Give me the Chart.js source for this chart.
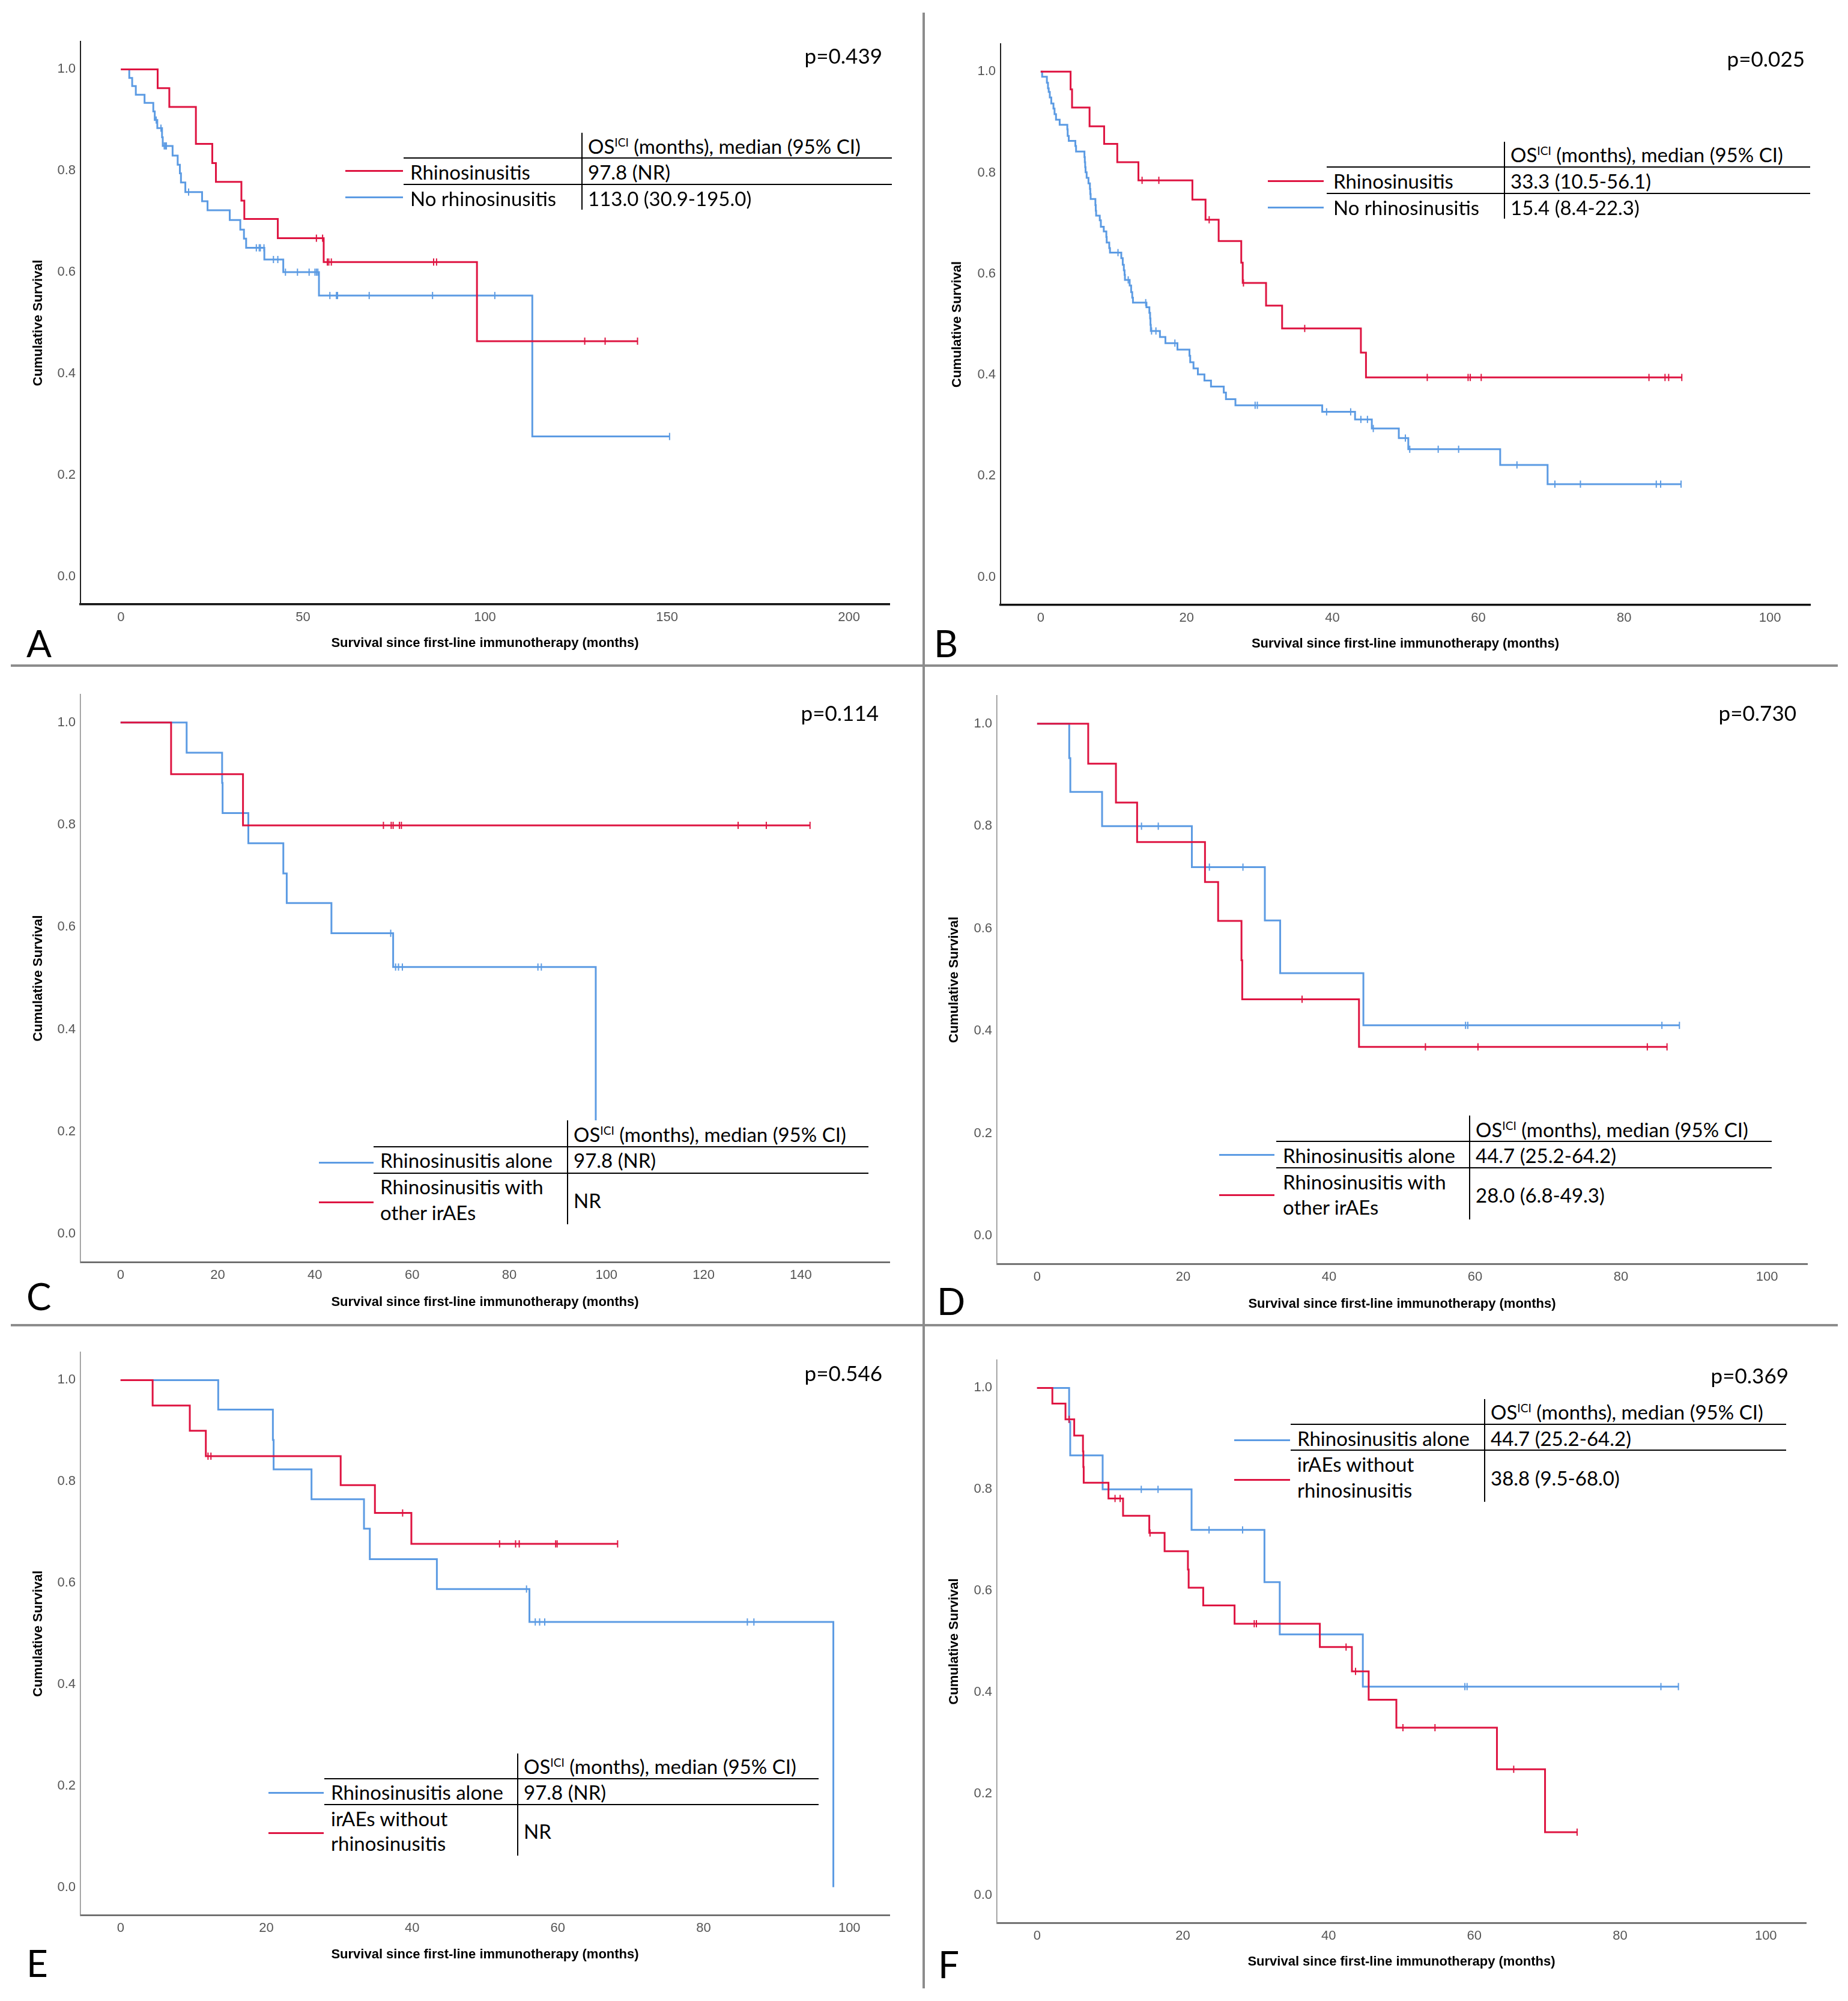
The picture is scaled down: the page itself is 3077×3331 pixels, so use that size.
<!DOCTYPE html>
<html>
<head>
<meta charset="UTF-8" />
<title>Overall survival since first-line immunotherapy</title>
<script src="https://cdn.jsdelivr.net/npm/chart.js@4/dist/chart.umd.min.js"></script>
<style>
    body {
        margin: 0;
        width: 3077px;
        height: 3331px;
        position: relative;
        overflow: hidden;
        background-color: white;
    }
    canvas { position: absolute; }
    .rule { position: absolute; background-color: #8c8c8c; }
    .txt {
        position: absolute;
        white-space: nowrap;
        font-family: Lato, 'Open Sans', sans-serif;
        color: #000;
    }
    .tbl { position: absolute; background-color: white; }
    .ln { position: absolute; }
    sup { font-size: 58%; vertical-align: 0.62em; line-height: 0; }
</style>
</head>
<body>
<script>
    // ---- values (months, cumulative survival) ----
    // A: rhinosinusitis vs no rhinosinusitis
    const aRedT  = [0, 10.1, 13.3, 20.6, 25.1, 26.1, 33.1, 33.9, 43.1, 55.7, 97.8];
    const aRedS  = [1, 0.963, 0.926, 0.853, 0.815, 0.778, 0.741, 0.705, 0.667, 0.620, 0.464];
    const aRedC  = [53.7, 55.4, 56.7, 57.1, 57.8, 85.9, 86.7, 127.4, 133.0, 141.9];
    const aBlueT = [0, 2.3, 3.1, 4.1, 6.5, 8.9, 9.3, 10.0, 11.3, 11.5, 14.2, 15.6, 16.2, 16.5, 17.7,
                    22.3, 23.8, 29.9, 32.8, 33.8, 34.4, 39.4, 44.6, 54.4, 113.0];
    const aBlueS = [1, 0.983, 0.967, 0.950, 0.934, 0.917, 0.900, 0.884, 0.866, 0.849, 0.830, 0.812, 0.795, 0.777, 0.758,
                    0.740, 0.722, 0.703, 0.684, 0.666, 0.648, 0.625, 0.600, 0.554, 0.276];
    const aBlueC = [9.7, 11.0, 11.9, 12.2, 12.5, 18.6, 37.2, 38.0, 38.3, 39.3, 41.9, 43.1, 45.2, 48.5, 51.7,
                    53.3, 53.7, 54.1, 57.4, 59.2, 59.5, 68.2, 85.6, 102.7, 150.7];

    // B: rhinosinusitis vs no rhinosinusitis
    const bRedT  = [0, 4.1, 4.3, 6.7, 8.7, 10.5, 13.4, 20.8, 22.6, 24.4, 27.5, 27.7, 30.9, 33.1, 43.9, 44.6];
    const bRedS  = [1, 0.965, 0.929, 0.892, 0.857, 0.821, 0.785, 0.747, 0.707, 0.665, 0.622, 0.582, 0.537, 0.492, 0.444, 0.395];
    const bRedC  = [13.9, 16.2, 23.1, 27.8, 36.2, 53.0, 58.6, 58.9, 60.4, 83.4, 85.6, 86.1, 87.9];
    const bBlueT = [0, 0.2, 0.85, 1.0, 1.1, 1.25, 1.45, 1.75, 1.9, 2.1,
                    2.6, 3.65, 3.7, 3.85, 4.75, 4.85, 6.0, 6.05, 6.1, 6.15,
                    6.3, 6.55, 6.75, 6.8, 6.85, 7.5, 7.55, 7.6, 8.1, 8.25,
                    8.65, 9.0, 9.05, 9.4, 9.5, 11.05, 11.25, 11.4, 11.5, 11.55,
                    12.2, 12.4, 12.55, 12.65, 14.5, 14.9, 15.0, 15.05, 15.1, 16.35,
                    17.1, 18.75, 20.4, 20.5, 20.95, 21.55, 22.45, 23.35, 25.1, 25.4,
                    26.7, 38.6, 43.1, 45.4, 49.1, 50.4, 63.0, 69.5];
    const bBlueS = [1, 0.990, 0.978, 0.967, 0.960, 0.949, 0.937, 0.927, 0.916, 0.905,
                    0.895, 0.886, 0.873, 0.863, 0.853, 0.842, 0.831, 0.821, 0.811, 0.801,
                    0.790, 0.779, 0.768, 0.758, 0.748, 0.736, 0.725, 0.715, 0.706, 0.693,
                    0.684, 0.673, 0.662, 0.651, 0.642, 0.631, 0.618, 0.607, 0.598, 0.588,
                    0.577, 0.564, 0.553, 0.543, 0.534, 0.523, 0.512, 0.499, 0.487, 0.475,
                    0.463, 0.450, 0.438, 0.425, 0.413, 0.401, 0.389, 0.377, 0.365, 0.352,
                    0.340, 0.327, 0.312, 0.294, 0.275, 0.253, 0.222, 0.184];
    const bBlueC = [10.6, 12.0, 14.4, 15.2, 15.8, 18.4, 29.4, 29.7, 39.2, 42.5, 43.9, 44.8,
                    45.6, 50.0, 50.6, 54.5, 57.3, 65.3, 70.5, 74.0, 84.4, 85.0, 87.8];

    // C: rhinosinusitis alone vs rhinosinusitis with other irAEs
    const cBlueT = [0, 13.6, 20.9, 21.0, 26.3, 33.5, 34.2, 43.4, 56.1, 97.8];
    const cBlueS = [1, 0.941, 0.882, 0.823, 0.764, 0.705, 0.647, 0.588, 0.522, 0];
    const cBlueC = [55.6, 56.6, 57.2, 58.0, 85.9, 86.6];
    const cRedT  = [0, 10.4, 25.2];
    const cRedS  = [1, 0.899, 0.799];
    const cRedC  = [54.1, 55.7, 56.1, 57.4, 57.8, 127.1, 132.9, 141.9];

    // D: rhinosinusitis alone vs rhinosinusitis with other irAEs
    const dBlueT = [0, 4.4, 4.55, 8.9, 21.2, 31.2, 33.3, 44.7];
    const dBlueS = [1, 0.933, 0.867, 0.800, 0.720, 0.616, 0.513, 0.411];
    const dBlueC = [14.3, 16.6, 23.6, 28.2, 58.7, 59.0, 85.6, 88.0];
    const dRedT  = [0, 7.0, 10.8, 13.7, 23.0, 24.8, 28.0, 28.1, 44.1];
    const dRedS  = [1, 0.922, 0.846, 0.769, 0.691, 0.615, 0.538, 0.462, 0.369];
    const dRedC  = [36.3, 53.2, 60.4, 83.6, 86.3];

    // E: rhinosinusitis alone vs irAEs without rhinosinusitis
    const eBlueT = [0, 13.4, 20.9, 21.0, 26.2, 33.4, 34.2, 43.4, 56.1, 97.8];
    const eBlueS = [1, 0.942, 0.882, 0.824, 0.765, 0.707, 0.647, 0.588, 0.523, 0];
    const eBlueC = [55.7, 56.9, 57.5, 58.2, 86.0, 86.9];
    const eRedT  = [0, 4.4, 9.5, 11.7, 30.2, 34.9, 39.9];
    const eRedS  = [1, 0.950, 0.900, 0.850, 0.793, 0.738, 0.677];
    const eRedC  = [12.0, 12.4, 38.7, 52.0, 54.2, 54.7, 59.7, 59.9, 68.2];

    // F: rhinosinusitis alone vs irAEs without rhinosinusitis
    const fBlueT = [0, 4.4, 4.55, 9.0, 21.2, 31.2, 33.3, 44.7];
    const fBlueS = [1, 0.933, 0.867, 0.800, 0.720, 0.617, 0.514, 0.411];
    const fBlueC = [14.3, 16.6, 23.6, 28.2, 58.7, 59.0, 85.6, 88.0];
    const fRedT  = [0, 2.1, 3.9, 5.1, 6.3, 6.35, 6.4, 9.8, 11.8, 15.4, 17.5, 20.7, 20.8, 22.8, 27.1,
                    38.8, 43.2, 45.5, 49.3, 63.1, 69.7];
    const fRedS  = [1, 0.969, 0.938, 0.906, 0.875, 0.844, 0.813, 0.782, 0.748, 0.714, 0.678, 0.642, 0.606, 0.571, 0.535,
                    0.489, 0.441, 0.385, 0.330, 0.248, 0.124];
    const fRedC  = [4.4, 10.7, 11.4, 15.5, 29.8, 30.1, 42.4, 43.7, 50.2, 54.6, 65.4, 74.1];

    // tick labels
    const aXTicks = [0, 50, 100, 150, 200];
    const cXTicks = [0, 20, 40, 60, 80, 100, 120, 140];
    const xTicks100 = [0, 20, 40, 60, 80, 100];
    const yTicks = [0, 0.2, 0.4, 0.6, 0.8, 1.0];

    // texts
    const xTitle = 'Survival since first-line immunotherapy (months)';
    const yTitle = 'Cumulative Survival';
    const headerText = 'OS<sup>ICI</sup> (months), median (95% CI)';
    const panelLetters = ['A', 'B', 'C', 'D', 'E', 'F'];
    const pValues = ['p=0.439', 'p=0.025', 'p=0.114', 'p=0.730', 'p=0.546', 'p=0.369'];
    const groupNames = [
        [['Rhinosinusitis'], ['No rhinosinusitis']],
        [['Rhinosinusitis'], ['No rhinosinusitis']],
        [['Rhinosinusitis alone'], ['Rhinosinusitis with', 'other irAEs']],
        [['Rhinosinusitis alone'], ['Rhinosinusitis with', 'other irAEs']],
        [['Rhinosinusitis alone'], ['irAEs without', 'rhinosinusitis']],
        [['Rhinosinusitis alone'], ['irAEs without', 'rhinosinusitis']]
    ];
    const medians = [
        ['97.8 (NR)', '113.0 (30.9-195.0)'],
        ['33.3 (10.5-56.1)', '15.4 (8.4-22.3)'],
        ['97.8 (NR)', 'NR'],
        ['44.7 (25.2-64.2)', '28.0 (6.8-49.3)'],
        ['97.8 (NR)', 'NR'],
        ['44.7 (25.2-64.2)', '38.8 (9.5-68.0)']
    ];

    // ---- styles and layout ----
    const RED = '#de1441';
    const BLUE = '#5c9be3';
    const AXIS_FONT = "'Liberation Sans', Arial, sans-serif";

    const panelCurves = [
        [[aRedT, aRedS, aRedC, RED], [aBlueT, aBlueS, aBlueC, BLUE]],
        [[bRedT, bRedS, bRedC, RED], [bBlueT, bBlueS, bBlueC, BLUE]],
        [[cRedT, cRedS, cRedC, RED], [cBlueT, cBlueS, cBlueC, BLUE]],
        [[dRedT, dRedS, dRedC, RED], [dBlueT, dBlueS, dBlueC, BLUE]],
        [[eRedT, eRedS, eRedC, RED], [eBlueT, eBlueS, eBlueC, BLUE]],
        [[fRedT, fRedS, fRedC, RED], [fBlueT, fBlueS, fBlueC, BLUE]]
    ];
    const panelXTicks = [aXTicks, xTicks100, cXTicks, xTicks100, xTicks100, xTicks100];
    const rowColors = [[RED, BLUE], [RED, BLUE], [BLUE, RED], [BLUE, RED], [BLUE, RED], [BLUE, RED]];

    // plot boxes in page pixels
    const plotBoxes = [
        { L: 134,  T: 69,   R: 1481, B: 1006, cx: 20,   yTitleX: 64,   xTitleY: 1071, xMin: -11.1, xMax: 211.1 },
        { L: 1666, T: 73,   R: 3014, B: 1007, cx: 1550, yTitleX: 1594, xTitleY: 1072, xMin: -5.5,  xMax: 105.5 },
        { L: 134,  T: 1156, R: 1481, B: 2101, cx: 20,   yTitleX: 64,   xTitleY: 2168, xMin: -8.25, xMax: 158.25 },
        { L: 1660, T: 1158, R: 3009, B: 2104, cx: 1550, yTitleX: 1589, xTitleY: 2171, xMin: -5.5,  xMax: 105.5 },
        { L: 134,  T: 2251, R: 1481, B: 3188, cx: 20,   yTitleX: 64,   xTitleY: 3254, xMin: -5.5,  xMax: 105.5 },
        { L: 1660, T: 2264, R: 3007, B: 3201, cx: 1550, yTitleX: 1589, xTitleY: 3266, xMin: -5.5,  xMax: 105.5 }
    ];
    const tables = [
        { legX0: 575,  legX1: 671,  c1: 672,  vx: 968,  right: 1485, vTop: 221,  hl1: 263,  hl2: 307,  vBot: 349,
          headY: 243,  nameY: [[286], [330]], valY: [286, 330], lineY: [284, 328] },
        { legX0: 2111, legX1: 2204, c1: 2209, vx: 2504, right: 3014, vTop: 236,  hl1: 278,  hl2: 322,  vBot: 364,
          headY: 257,  nameY: [[301], [345]], valY: [301, 345], lineY: [301, 345] },
        { legX0: 531,  legX1: 622,  c1: 622,  vx: 944,  right: 1446, vTop: 1865, hl1: 1909, hl2: 1953, vBot: 2038, boxBottom: 2096,
          headY: 1888, nameY: [[1931], [1975, 2018]], valY: [1931, 1998], lineY: [1935, 2001] },
        { legX0: 2030, legX1: 2122, c1: 2125, vx: 2446, right: 2950, vTop: 1857, hl1: 1900, hl2: 1944, vBot: 2030,
          headY: 1880, nameY: [[1923], [1967, 2009]], valY: [1923, 1989], lineY: [1922, 1989] },
        { legX0: 447,  legX1: 539,  c1: 540,  vx: 861,  right: 1363, vTop: 2919, hl1: 2961, hl2: 3004, vBot: 3089,
          headY: 2940, nameY: [[2983], [3027, 3068]], valY: [2983, 3048], lineY: [2984, 3051] },
        { legX0: 2055, legX1: 2148, c1: 2149, vx: 2471, right: 2974, vTop: 2329, hl1: 2371, hl2: 2414, vBot: 2500,
          headY: 2350, nameY: [[2394], [2437, 2480]], valY: [2394, 2460], lineY: [2397, 2463] }
    ];
    const pPos = [{ r: 1469, y: 92 }, { r: 3005, y: 97 }, { r: 1463, y: 1186 },
                  { r: 2991, y: 1186 }, { r: 1469, y: 2285 }, { r: 2978, y: 2289 }];
    const letterPos = [{ x: 44, y: 1070 }, { x: 1555, y: 1070 }, { x: 44, y: 2157 },
                       { x: 1560, y: 2165 }, { x: 44, y: 3267 }, { x: 1562, y: 3269 }];

    // ---- helpers ----
    function stepPoints(t, s, cens) {
        let pts = t.map((x, i) => ({ x: x, y: s[i] }));
        let end = Math.max(t[t.length - 1], ...cens);
        if (end > t[t.length - 1]) pts.push({ x: end, y: s[s.length - 1] });
        return pts;
    }
    function levelAt(t, s, x) {
        let y = 1;
        for (let i = 0; i < t.length; i++) if (t[i] <= x) y = s[i];
        return y;
    }
    function kmDatasets(t, s, cens, color) {
        return [
            { data: cens.map(x => ({ x: x, y: levelAt(t, s, x) })), showLine: false,
              borderColor: color, backgroundColor: color, pointStyle: 'line', pointRotation: 90,
              pointRadius: 6, pointBorderWidth: 2 },
            { data: stepPoints(t, s, cens), stepped: true, borderColor: color, borderWidth: 3,
              pointRadius: 0, fill: false, borderCapStyle: 'butt', borderJoinStyle: 'miter' }
        ];
    }
    function addDiv(cls, css, html) {
        let d = document.createElement('div');
        d.className = cls;
        d.style.cssText = css;
        if (html) d.innerHTML = html;
        document.body.appendChild(d);
        return d;
    }
    function addText(html, x, cy, size, align) {
        let lh = Math.round(size * 1.2);
        let pos = align === 'right' ? 'right:' + (3077 - x) + 'px;' : 'left:' + x + 'px;';
        addDiv('txt', pos + 'top:' + (cy - lh / 2) + 'px;font-size:' + size + 'px;line-height:' + lh + 'px;', html);
    }

    function drawPanel(k) {
        const g = plotBoxes[k];
        const ct = g.T - 40, cr = g.R + 30, cb = Math.round(g.xTitleY + 16);
        const cw = cr - g.cx, ch = cb - ct;
        let cv = document.createElement('canvas');
        cv.width = cw;
        cv.height = ch;
        cv.style.cssText = 'left:' + g.cx + 'px;top:' + ct + 'px;width:' + cw + 'px;height:' + ch + 'px;';
        document.body.appendChild(cv);

        const dark = k < 2;
        const tickFont = { family: AXIS_FONT, size: 22 };
        const titleFont = { family: AXIS_FONT, size: 22, weight: 'bold' };
        let ds = [];
        panelCurves[k].forEach(c => ds.push(...kmDatasets(c[0], c[1], c[2], c[3])));

        new Chart(cv, {
            type: 'line',
            data: { datasets: ds },
            options: {
                responsive: false,
                animation: false,
                devicePixelRatio: 1,
                events: [],
                layout: { padding: { top: g.T - ct, right: cr - g.R, left: 0, bottom: 0 } },
                plugins: { legend: { display: false }, tooltip: { enabled: false } },
                scales: {
                    x: {
                        type: 'linear', min: g.xMin, max: g.xMax,
                        afterFit: s => { s.height = cb - g.B; },
                        afterBuildTicks: s => { s.ticks = panelXTicks[k].map(v => ({ value: v })); },
                        grid: { display: false, drawTicks: false },
                        border: { display: true, color: dark ? '#111' : '#5a5a5a', width: dark ? 3.5 : 2.5 },
                        ticks: { padding: 9, color: '#555', font: tickFont, maxRotation: 0, autoSkip: false,
                                 callback: v => String(v) },
                        title: { display: true, text: xTitle, color: '#000', font: titleFont,
                                 padding: { top: 0, bottom: cb - g.xTitleY - 13.2 } }
                    },
                    y: {
                        type: 'linear', min: -0.055, max: 1.055,
                        afterFit: s => { s.width = g.L - g.cx; },
                        afterBuildTicks: s => { s.ticks = yTicks.map(v => ({ value: v })); },
                        grid: { display: false, drawTicks: false },
                        border: { display: true, color: dark ? '#222' : '#8a8a8a', width: dark ? 2 : 1.5 },
                        ticks: { padding: 8, color: '#555', font: tickFont, autoSkip: false,
                                 callback: v => v.toFixed(1) },
                        title: { display: true, text: yTitle, color: '#000', font: titleFont,
                                 padding: { top: g.yTitleX - g.cx - 13.2, bottom: 0 } }
                    }
                }
            }
        });
    }

    function addTable(k) {
        const t = tables[k];
        addDiv('tbl', 'left:' + (t.legX0 - 4) + 'px;top:' + t.vTop + 'px;width:' + (t.right - t.legX0 + 8) +
               'px;height:' + ((t.boxBottom || t.vBot) - t.vTop) + 'px;');
        addDiv('ln', 'left:' + t.vx + 'px;top:' + t.vTop + 'px;width:2px;height:' + (t.vBot - t.vTop) +
               'px;background:#000;');
        [t.hl1, t.hl2].forEach(y => addDiv('ln', 'left:' + t.c1 + 'px;top:' + (y - 1) + 'px;width:' +
               (t.right - t.c1) + 'px;height:2px;background:#000;'));
        addText(headerText, t.vx + 11, t.headY, 33);
        groupNames[k].forEach((lines, i) => {
            lines.forEach((s, j) => addText(s, t.c1 + 11, t.nameY[i][j], 33));
            addText(medians[k][i], t.vx + 11, t.valY[i], 33);
            addDiv('ln', 'left:' + t.legX0 + 'px;top:' + (t.lineY[i] - 1.5) + 'px;width:' +
                   (t.legX1 - t.legX0) + 'px;height:3px;background:' + rowColors[k][i] + ';');
        });
    }

    // ---- build page ----
    addDiv('rule', 'left:18px;top:1106px;width:3042px;height:4px;');
    addDiv('rule', 'left:18px;top:2204px;width:3042px;height:4px;');
    addDiv('rule', 'left:1536px;top:21px;width:4px;height:3289px;');

    for (let k = 0; k < 6; k++) {
        drawPanel(k);
        addTable(k);
        addText(pValues[k], pPos[k].r, pPos[k].y, 35, 'right');
        addText(panelLetters[k], letterPos[k].x, letterPos[k].y, 62);
    }
</script>
</body>
</html>
